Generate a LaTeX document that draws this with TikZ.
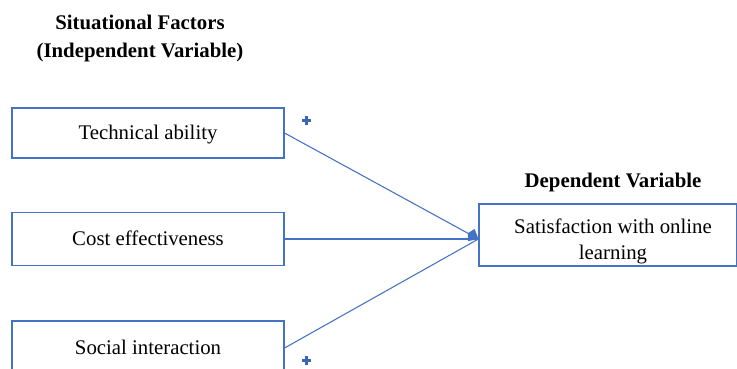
\documentclass[tikz,border=0pt]{standalone}
\usepackage{fontspec}
\setmainfont{Liberation Serif}
\usetikzlibrary{arrows.meta}
\definecolor{boxblue}{HTML}{4472C4}
\definecolor{plusblue}{HTML}{3A66B6}
\begin{document}
\begin{tikzpicture}[x=0.75pt,y=-0.75pt,
  factor/.style={draw=boxblue,line width=0.8pt,minimum width=272*0.75pt,inner sep=0pt,text height=12pt,text depth=1.6pt,font=\fontsize{15.6}{18}\selectfont},
  head/.style={font=\bfseries\fontsize{15.6}{21}\selectfont,align=center},
  link/.style={draw=boxblue,line width=0.8pt},
  plus/.style={inner sep=0pt,minimum size=9*0.75pt}]
\useasboundingbox (0,0) rectangle (737,368);
\clip (0,0) rectangle (737,368);
\node[head] (h1) at (140,38.5) {Situational Factors\\(Independent Variable)};
\node[head] (h2) at (613,182) {Dependent Variable};
\node[factor,minimum height=50*0.75pt] (t) at (148,133) {Technical ability};
\node[factor,minimum height=53*0.75pt] (c) at (148,239) {Cost effectiveness};
\node[factor,minimum height=54*0.75pt] (s) at (148,348) {Social interaction};
\node[draw=boxblue,line width=0.8pt,minimum width=258*0.75pt,minimum height=62*0.75pt,inner sep=0pt] (d) at (608,235) {};
\node[align=center,inner sep=0pt,font=\fontsize{15.6}{19.5}\selectfont] (dt) at (613,241) {Satisfaction with online\\learning};
\coordinate (tip) at (d.west |- c.east);
\draw[link,-{Kite[length=9pt,width=10.5pt,inset=2.8pt]}] (t.east) -- (tip);
\draw[link] (s.east) -- (tip);
\draw[link] (c.east) -- (tip);
\node[plus] (p1) at (306,120) {};
\node[plus] (p2) at (306,360) {};
\foreach \p in {p1,p2}{
  \fill[plusblue] (\p) +(-4.5,-1.5) rectangle +(4.5,1.5);
  \fill[plusblue] (\p) +(-1.5,-4.5) rectangle +(1.5,4.5);
}
\end{tikzpicture}
\end{document}
